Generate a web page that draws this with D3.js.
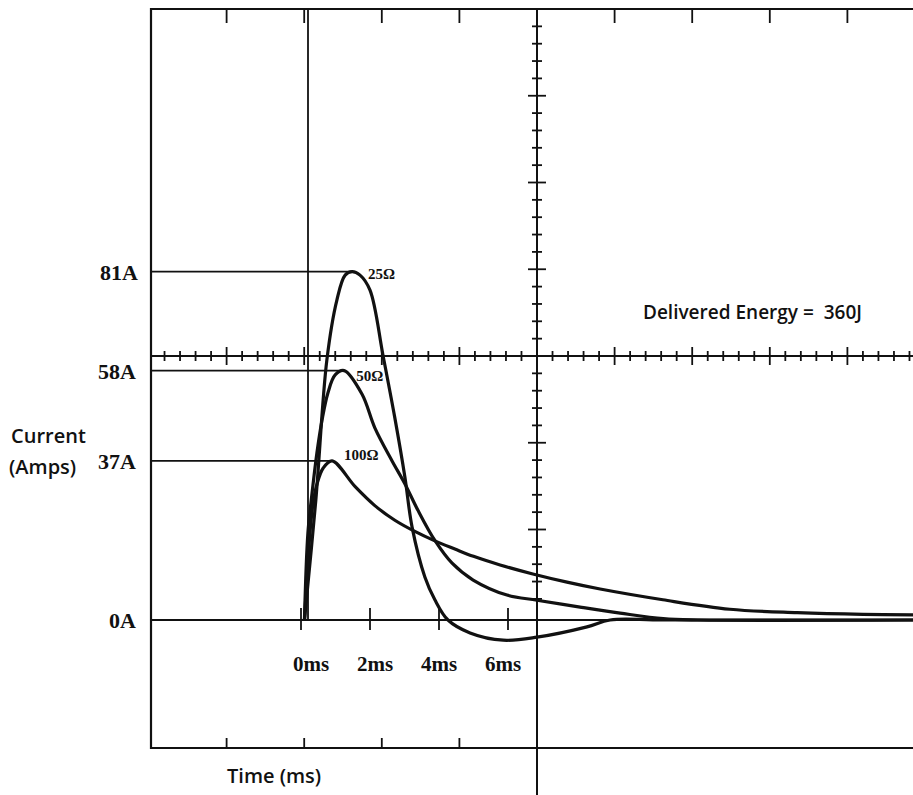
<!DOCTYPE html>
<html>
<head>
<meta charset="utf-8">
<script src="https://cdn.jsdelivr.net/npm/d3@7"></script>
<style>
  body { margin: 0; background: #fff; }
  svg { display: block; }
  .serif { font-family: "Liberation Serif", "DejaVu Serif", serif; font-weight: bold; fill: #111; }
  .sans { font-family: "Open Sans", "Noto Sans", sans-serif; font-weight: 600; fill: #111; }
</style>
</head>
<body>
<svg id="chart"></svg>
<script>
// curve data: [time in ms, current in A]
var curve25 = [[0.1,0],[0.43,27.9],[0.75,60.5],[1.04,74.4],[1.28,80.2],[1.48,81],[1.71,80.2],[2.0,76.7],
  [2.38,61.4],[2.72,47],[3.01,33.3],[3.22,21.6],[3.59,10],[3.88,4.7],[4.26,0],[4.9,-3],[5.86,-4.7],
  [6.84,-4],[8.29,-1.6],[8.96,0],[10.5,0],[17.8,0]]
var curve50 = [[0.1,0],[0.2,20.2],[0.32,29.5],[0.46,38.8],[0.61,46.5],[0.78,52.8],[0.99,57],[1.25,58],
  [1.77,52.5],[2.14,44.7],[2.64,37],[3.01,31.7],[3.39,25.5],[3.88,18.5],[4.38,13.2],[4.99,9.3],
  [5.97,5.8],[6.84,4.6],[8.09,3.0],[9.25,1.6],[10.5,0.3],[11.5,0],[17.8,0]]
var curve100 = [[0.1,0],[0.17,9.3],[0.26,20.2],[0.35,27.2],[0.46,31.5],[0.64,35.3],[0.9,37],[1.57,31],
  [2.14,26.6],[2.72,23.2],[3.3,20.6],[3.88,18.4],[4.46,16.5],[5.0,14.8],[5.77,12.8],[6.72,10.7],
  [7.71,8.8],[8.67,7.2],[10.49,4.7],[12.43,2.5],[14.38,1.7],[16.29,1.3],[17.8,1.2]]

var seriesNames = ["25Ω", "50Ω", "100Ω"]
var peakAmps = [81, 58, 37]
var ampLabels = ["81A", "58A", "37A", "0A"]
var ampValues = [81, 58, 37, 0]
var timeTicks = [0, 2, 4, 6]
var timeLabels = ["0ms", "2ms", "4ms", "6ms"]

var dimensions = {
  width: 913,
  height: 795,
  frame: { left: 151, top: 9, bottom: 748, right: 913 },
  centerX: 537,
  centerY: 356,
  divX: 77.6,
  divY: 86.75
}

var svg = d3.select("#chart")
  .attr("width", dimensions.width)
  .attr("height", dimensions.height)

var xScale = d3.scaleLinear().domain([0, 6]).range([301, 508])
var yScale = d3.scaleLinear().domain([0, 81]).range([620, 271.7])
// tick labels sit a bit tighter than the ticks themselves
var labelScale = d3.scaleLinear().domain([0, 6]).range([311, 503])

var f = dimensions.frame
var ink = "#111"

// frame
svg.append("path")
  .attr("d", `M${f.right},${f.top}H${f.left}V${f.bottom}H${f.right}`)
  .attr("fill", "none").attr("stroke", ink).attr("stroke-width", 2.2)

// graticule major positions
var majorX = d3.range(-5, 6).map(k => dimensions.centerX + k * dimensions.divX)
  .filter(x => x > f.left + 5 && x < f.right)
svg.selectAll(".topTick")
  .data(majorX.filter(x => Math.abs(x - dimensions.centerX) > 5))
  .enter().append("line")
  .attr("x1", d => d).attr("x2", d => d)
  .attr("y1", f.top).attr("y2", f.top + 14)
  .attr("stroke", ink).attr("stroke-width", 1.8)
svg.selectAll(".botTick")
  .data(majorX.filter(x => x < dimensions.centerX - 5))
  .enter().append("line")
  .attr("x1", d => d).attr("x2", d => d)
  .attr("y1", f.bottom).attr("y2", f.bottom - 10)
  .attr("stroke", ink).attr("stroke-width", 1.8)

// center cross
svg.append("line")
  .attr("x1", f.left).attr("x2", f.right)
  .attr("y1", dimensions.centerY).attr("y2", dimensions.centerY)
  .attr("stroke", ink).attr("stroke-width", 2.2)
svg.append("line")
  .attr("x1", dimensions.centerX).attr("x2", dimensions.centerX)
  .attr("y1", f.top).attr("y2", dimensions.height)
  .attr("stroke", ink).attr("stroke-width", 2)

var hTicks = d3.range(-29, 25).filter(k => k != 0)
  .map(k => ({ x: dimensions.centerX + k * dimensions.divX / 5, major: k % 5 == 0 }))
  .filter(d => d.x > f.left + 5 && d.x < f.right)
svg.selectAll(".hTick")
  .data(hTicks).enter().append("line")
  .attr("x1", d => d.x).attr("x2", d => d.x)
  .attr("y1", d => dimensions.centerY - (d.major ? 9 : 5))
  .attr("y2", d => dimensions.centerY + (d.major ? 9 : 5))
  .attr("stroke", ink).attr("stroke-width", 1.8)

var vTicks = d3.range(-19, 15).filter(k => k != 0)
  .map(k => ({ y: dimensions.centerY + k * dimensions.divY / 5, major: k % 5 == 0 }))
  .filter(d => d.y > f.top + 5)
svg.selectAll(".vTick")
  .data(vTicks).enter().append("line")
  .attr("y1", d => d.y).attr("y2", d => d.y)
  .attr("x1", d => dimensions.centerX - (d.major ? 9 : 5))
  .attr("x2", d => dimensions.centerX + (d.major ? 9 : 5))
  .attr("stroke", ink).attr("stroke-width", 1.8)

// trigger line at start of pulse
svg.append("line")
  .attr("x1", 308).attr("x2", 308)
  .attr("y1", f.top).attr("y2", yScale(0))
  .attr("stroke", ink).attr("stroke-width", 1.8)

// zero line and time ticks
svg.append("line")
  .attr("x1", f.left).attr("x2", f.right)
  .attr("y1", yScale(0)).attr("y2", yScale(0))
  .attr("stroke", ink).attr("stroke-width", 1.8)
svg.selectAll(".tTick")
  .data(timeTicks).enter().append("line")
  .attr("x1", d => xScale(d)).attr("x2", d => xScale(d))
  .attr("y1", yScale(0) - 12).attr("y2", yScale(0) + 10)
  .attr("stroke", ink).attr("stroke-width", 1.8)
svg.selectAll(".tLabel")
  .data(timeLabels).enter().append("text")
  .attr("class", "serif")
  .attr("x", (d, i) => labelScale(timeTicks[i]))
  .attr("y", yScale(0) + 51)
  .attr("text-anchor", "middle")
  .style("font-size", "21px")
  .text(d => d)

// peak reference lines
var curves = [curve25, curve50, curve100]
var peakTimes = curves.map(c => c.find(p => p[1] == d3.max(c, q => q[1]))[0])
svg.selectAll(".refLine")
  .data(peakAmps).enter().append("line")
  .attr("x1", f.left).attr("x2", (d, i) => xScale(peakTimes[i]))
  .attr("y1", d => yScale(d)).attr("y2", d => yScale(d))
  .attr("stroke", ink).attr("stroke-width", 1.8)

svg.selectAll(".ampLabel")
  .data(ampLabels).enter().append("text")
  .attr("class", "serif")
  .attr("x", (d, i) => i == 0 ? 138 : 136)
  .attr("y", (d, i) => yScale(ampValues[i]) + 8)
  .attr("text-anchor", "end")
  .style("font-size", "22px")
  .text(d => d)

// curves
var line = d3.line()
  .x(d => xScale(d[0]))
  .y(d => yScale(d[1]))
  .curve(d3.curveCatmullRom.alpha(0.5))
svg.selectAll(".curve")
  .data(curves).enter().append("path")
  .attr("d", line)
  .attr("fill", "none")
  .attr("stroke", ink)
  .attr("stroke-width", 3.2)
  .attr("stroke-linejoin", "round")

// curve names next to peaks
var nameOffsets = [[16, 7], [12, 10], [12, -1]]
svg.selectAll(".name")
  .data(seriesNames).enter().append("text")
  .attr("class", "serif")
  .attr("x", (d, i) => xScale(peakTimes[i]) + nameOffsets[i][0])
  .attr("y", (d, i) => yScale(peakAmps[i]) + nameOffsets[i][1])
  .style("font-size", "15px")
  .text(d => d)

// titles
svg.append("text").attr("class", "sans")
  .attr("x", 11).attr("y", 443).style("font-size", "20px").text("Current")
svg.append("text").attr("class", "sans")
  .attr("x", 9).attr("y", 474).style("font-size", "20px").text("(Amps)")
svg.append("text").attr("class", "sans")
  .attr("x", 227).attr("y", 783).style("font-size", "20px").text("Time (ms)")
svg.append("text").attr("class", "sans")
  .attr("x", 643).attr("y", 319).style("font-size", "19px")
  .attr("xml:space", "preserve")
  .text("Delivered Energy =  360J")
</script>
</body>
</html>
